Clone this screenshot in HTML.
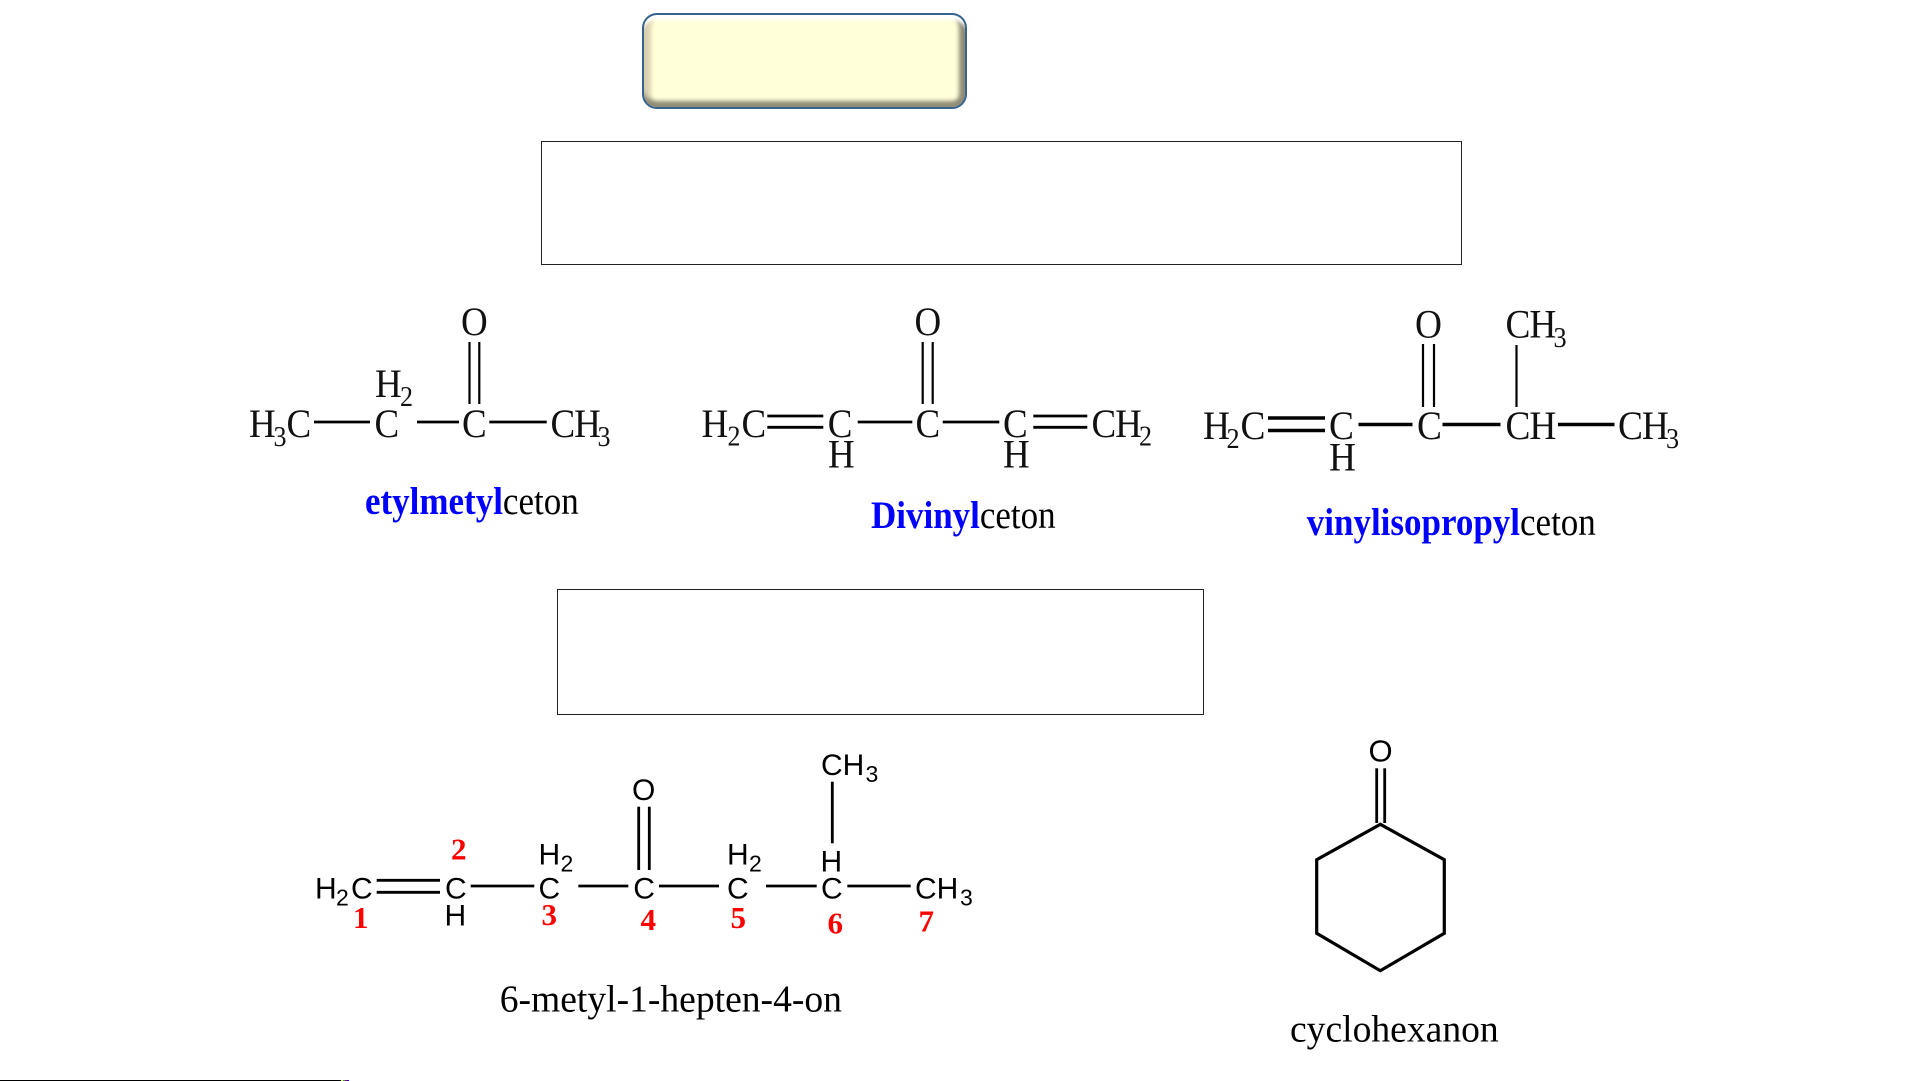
<!DOCTYPE html>
<html><head><meta charset="utf-8"><style>
html,body{margin:0;padding:0;background:#fff}
#p{position:relative;width:1921px;height:1081px;overflow:hidden;background:#fff}
svg{position:absolute;left:0;top:0}
.btn{position:absolute;left:642px;top:13px;width:321px;height:92px;border:2px solid #36648f;border-radius:15px;background:#ffffd9;box-shadow:inset 0 8px 3px -3px #fff,inset 0 -9px 4px -3px #8f8b76,inset 10px 0 4px -3px #d9d2b0,inset -9px 0 4px -3px #8f8b76}
.s{font-family:"Liberation Serif",serif;font-size:37px;fill:#111}
.ch{letter-spacing:-1px}
.ss{font-family:"Liberation Serif",serif;font-size:26px;fill:#111}
.a{font-family:"Liberation Sans",sans-serif;font-size:30px;fill:#000}
.as{font-family:"Liberation Sans",sans-serif;font-size:23px;fill:#000}
.l{font-family:"Liberation Serif",serif;font-size:35px;fill:#000}
.n{font-family:"Liberation Serif",serif;font-size:37.6px;fill:#000}
.b{font-weight:bold;fill:#0000ff}
.r{font-family:"Liberation Serif",serif;font-size:31px;font-weight:bold;fill:#ff0000}
line{stroke:#000;stroke-width:2.8}
.t{stroke-width:3.6}
.f{stroke-width:2.2}
</style></head><body><div id="p">
<div class="btn"></div>
<svg width="1921" height="1081" viewBox="0 0 1921 1081">
<rect x="541.5" y="141.5" width="920" height="123" fill="none" stroke="#222" stroke-width="1"/>
<rect x="557.5" y="589.5" width="646" height="125" fill="none" stroke="#222" stroke-width="1"/>

<!-- molecule 1 -->
<text class="s" transform="translate(249 437) scale(1 1.09)">H</text>
<text class="ss" transform="translate(273.5 446) scale(1 1.09)">3</text>
<text class="s" transform="translate(286.5 437) scale(1 1.09)">C</text>
<line x1="314" y1="422" x2="370" y2="422"/>
<text class="s" transform="translate(374.5 437) scale(1 1.09)">C</text>
<text class="s" transform="translate(375 397) scale(1 1.09)">H</text>
<text class="ss" transform="translate(400 406) scale(1 1.09)">2</text>
<line x1="417" y1="422" x2="459" y2="422"/>
<text class="s" transform="translate(462 437) scale(1 1.09)">C</text>
<text class="s" transform="translate(461 335) scale(1 1.09)">O</text>
<line class="f" x1="469.5" y1="342" x2="469.5" y2="404"/>
<line class="f" x1="479.3" y1="342" x2="479.3" y2="404"/>
<line x1="489.3" y1="422" x2="546.7" y2="422"/>
<text class="s ch" transform="translate(550.5 437) scale(1 1.09)">CH</text>
<text class="ss" transform="translate(597.5 446) scale(1 1.09)">3</text>
<text class="l" transform="translate(365 514.2) scale(1 1.13)"><tspan class="b">etylmetyl</tspan>ceton</text>

<!-- molecule 2 -->
<text class="s" transform="translate(701.5 437) scale(1 1.09)">H</text>
<text class="ss" transform="translate(727.5 445.5) scale(1 1.09)">2</text>
<text class="s" transform="translate(741.5 437) scale(1 1.09)">C</text>
<line x1="767.3" y1="416" x2="823.3" y2="416"/>
<line x1="767.3" y1="427.3" x2="823.3" y2="427.3"/>
<text class="s" transform="translate(827.8 437) scale(1 1.09)">C</text>
<text class="s" transform="translate(828 467.3) scale(1 1.09)">H</text>
<line x1="857.7" y1="422" x2="912.3" y2="422"/>
<text class="s" transform="translate(915.5 437) scale(1 1.09)">C</text>
<text class="s" transform="translate(914.5 335) scale(1 1.09)">O</text>
<line class="f" x1="922.7" y1="342" x2="922.7" y2="404"/>
<line class="f" x1="932.7" y1="342" x2="932.7" y2="404"/>
<line x1="942.7" y1="422" x2="999.3" y2="422"/>
<text class="s" transform="translate(1003 437) scale(1 1.09)">C</text>
<text class="s" transform="translate(1003 467.3) scale(1 1.09)">H</text>
<line x1="1033.3" y1="416" x2="1087.3" y2="416"/>
<line x1="1033.3" y1="427.3" x2="1087.3" y2="427.3"/>
<text class="s ch" transform="translate(1091.5 437) scale(1 1.09)">CH</text>
<text class="ss" transform="translate(1139 445.5) scale(1 1.09)">2</text>
<text class="l" transform="translate(871 528.2) scale(1 1.13)"><tspan class="b">Divinyl</tspan>ceton</text>

<!-- molecule 3 -->
<text class="s" transform="translate(1203 439) scale(1.01 1.09)">H</text>
<text class="ss" transform="translate(1226.5 448) scale(1.01 1.09)">2</text>
<text class="s" transform="translate(1240.5 439) scale(1.01 1.09)">C</text>
<line class="t" x1="1268" y1="418" x2="1325" y2="418"/>
<line class="t" x1="1268" y1="430.5" x2="1325" y2="430.5"/>
<text class="s" transform="translate(1329 439) scale(1.01 1.09)">C</text>
<text class="s" transform="translate(1329 470.3) scale(1.01 1.09)">H</text>
<line class="t" x1="1358.5" y1="424.5" x2="1412.5" y2="424.5"/>
<text class="s" transform="translate(1417 439) scale(1.01 1.09)">C</text>
<text class="s" transform="translate(1415 337.7) scale(1.01 1.09)">O</text>
<line class="f" x1="1423" y1="344" x2="1423" y2="407"/>
<line class="f" x1="1434" y1="344" x2="1434" y2="407"/>
<line class="t" x1="1442.5" y1="424.5" x2="1500.5" y2="424.5"/>
<text class="s ch" transform="translate(1505.5 439) scale(1.01 1.09)">CH</text>
<line class="t" x1="1558" y1="424.5" x2="1614.5" y2="424.5"/>
<text class="s ch" transform="translate(1618 439) scale(1.01 1.09)">CH</text>
<text class="ss" transform="translate(1666 448) scale(1.01 1.09)">3</text>
<text class="s ch" transform="translate(1505.5 337.7) scale(1.01 1.09)">CH</text>
<text class="ss" transform="translate(1553.5 347) scale(1.01 1.09)">3</text>
<line class="f" x1="1516.5" y1="345" x2="1516.5" y2="407"/>
<text class="l" transform="translate(1306.8 534.8) scale(1 1.13)"><tspan class="b">vinylisopropyl</tspan>ceton</text>

<!-- heptenone -->
<text class="a" x="315" y="898.3">H</text>
<text class="as" x="336" y="905.7">2</text>
<text class="a" x="351" y="898.3">C</text>
<line x1="376.7" y1="880.3" x2="440" y2="880.3"/>
<line x1="376.7" y1="892.3" x2="440" y2="892.3"/>
<text class="a" x="445" y="898.3">C</text>
<text class="a" x="444.5" y="925.7">H</text>
<line x1="470.7" y1="886" x2="534.3" y2="886"/>
<text class="a" x="538.5" y="898.3">C</text>
<text class="a" x="538.5" y="864.5">H</text>
<text class="as" x="560.5" y="871.5">2</text>
<line x1="578.3" y1="886" x2="628.3" y2="886"/>
<text class="a" x="633.3" y="898.3">C</text>
<text class="a" x="632" y="800">O</text>
<line x1="638.7" y1="806.7" x2="638.7" y2="870"/>
<line x1="649.3" y1="806.7" x2="649.3" y2="870"/>
<line x1="659" y1="886" x2="719" y2="886"/>
<text class="a" x="727" y="898.3">C</text>
<text class="a" x="727" y="864.5">H</text>
<text class="as" x="749" y="871.5">2</text>
<line x1="766" y1="886" x2="816.7" y2="886"/>
<text class="a" x="821" y="898.3">C</text>
<text class="a" x="820.5" y="871.5">H</text>
<line x1="832.3" y1="781.7" x2="832.3" y2="843.3"/>
<text class="a" x="821" y="775">CH</text>
<text class="as" x="865.5" y="782">3</text>
<line x1="847.3" y1="886" x2="910.7" y2="886"/>
<text class="a" x="915" y="898.3">CH</text>
<text class="as" x="960" y="905.7">3</text>
<text class="r" x="353" y="927.8">1</text>
<text class="r" x="451" y="859.3">2</text>
<text class="r" x="541.5" y="925">3</text>
<text class="r" x="640.5" y="930">4</text>
<text class="r" x="730.5" y="927.8">5</text>
<text class="r" x="827.5" y="933.3">6</text>
<text class="r" x="918.5" y="931.7">7</text>
<text class="n" x="499.7" y="1011.7">6-metyl-1-hepten-4-on</text>

<!-- cyclohexanone -->
<text class="a" x="1368.5" y="761.7" style="font-size:31px">O</text>
<line x1="1376.7" y1="768.3" x2="1376.7" y2="823"/>
<line x1="1384.7" y1="768.3" x2="1384.7" y2="823"/>
<polygon points="1380.3,824.3 1444.3,859.7 1444.3,933.3 1380.3,970.7 1316.7,933.3 1316.7,859.7" fill="none" stroke="#000" stroke-width="3.2"/>
<text class="n" x="1290" y="1041.7">cyclohexanon</text>

<!-- bottom line -->
<rect x="0" y="1080" width="341" height="1" fill="#000"/>
<rect x="341" y="1080" width="2" height="1" fill="#ff0"/>
<rect x="343" y="1080" width="2" height="1" fill="#09c"/>
<rect x="345" y="1080" width="2" height="1" fill="#c00"/>
<rect x="347" y="1080" width="2" height="1" fill="#00f"/>
</svg>
</div></body></html>
